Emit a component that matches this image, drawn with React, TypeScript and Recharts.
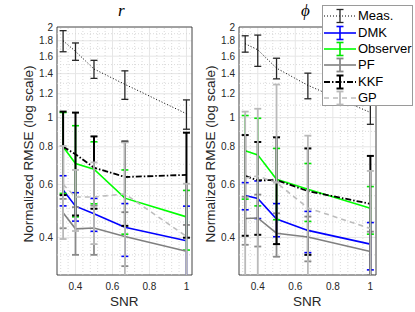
import React from "react";
import {
  ComposedChart,
  Line,
  ErrorBar,
  XAxis,
  YAxis,
  CartesianGrid,
  ReferenceLine,
  ReferenceArea,
  Legend,
} from "recharts";

// SNR values (x)
const snr = [0.333, 0.4, 0.5, 0.667, 1];

// ticks
const xTicks = [0.4, 0.6, 0.8, 1];
const xMinor = [0.32, 0.36, 0.44, 0.48, 0.52, 0.56, 0.64, 0.68, 0.72, 0.76, 0.84, 0.88, 0.92, 0.96];
const yTicks = [0.4, 0.6, 0.8, 1, 1.2, 1.4, 1.6, 1.8, 2];
const yMinor = [0.35, 0.45, 0.5, 0.55, 0.7, 0.9, 1.1, 1.3, 1.5, 1.7, 1.9];

// r panel: means and +/- errors
const rMeas = [1.8, 1.66, 1.45, 1.29, 1.03];
const rMeasErr = [0.145, 0.11, 0.1, 0.14, 0.115];
const rDMK = [0.575, 0.508, 0.479, 0.432, 0.39];
const rDMKErr = [0.066, 0.055, 0.06, 0.086, 0.118];
const rObs = [0.8, 0.704, 0.674, 0.54, 0.468];
const rObsErr = [0.24, 0.236, 0.157, 0.13, 0.105];
const rPF = [0.483, 0.427, 0.43, 0.403, 0.36];
const rPFErr = [0.054, 0.077, 0.08, 0.082, 0.08];
const rKKF = [0.8, 0.756, 0.682, 0.635, 0.645];
const rKKFErr = [0.247, 0.283, 0.184, 0.198, 0.246];
const rGP = [0.6, 0.545, 0.545, 0.558, 0.403];
const rGPErr = [0.205, 0.125, 0.165, 0.269, 0.2];

// phi panel
const pMeas = [1.76, 1.68, 1.46, 1.28, 1.04];
const pMeasErr = [0.11, 0.2, 0.115, 0.125, 0.09];
const pDMK = [0.551, 0.539, 0.46, 0.422, 0.38];
const pDMKErr = [0.057, 0.077, 0.058, 0.066, 0.068];
const pObs = [0.776, 0.752, 0.624, 0.578, 0.5];
const pObsErr = [0.24, 0.243, 0.166, 0.126, 0.09];
const pPF = [0.462, 0.464, 0.413, 0.401, 0.359];
const pPFErr = [0.084, 0.091, 0.068, 0.068, 0.059];
const pKKF = [0.64, 0.619, 0.62, 0.57, 0.517];
const pKKFErr = [0.235, 0.211, 0.24, 0.22, 0.229];
const pGP = [0.63, 0.64, 0.608, 0.501, 0.428];
const pGPErr = [0.417, 0.43, 0.68, 0.37, 0.237];

const series = [
  { key: "meas", name: "Meas.", color: "#000000", width: 1, dash: "1 2", errColor: "#262626", errWidth: 1.3 },
  { key: "dmk", name: "DMK", color: "#0000ff", width: 1.6, dash: undefined, errColor: "#0000ff", errWidth: 1.6 },
  { key: "obs", name: "Observer", color: "#00ff00", width: 1.6, dash: undefined, errColor: "#00e600", errWidth: 1.6 },
  { key: "pf", name: "PF", color: "#808080", width: 1.6, dash: undefined, errColor: "#8a8a8a", errWidth: 1.8 },
  { key: "kkf", name: "KKF", color: "#000000", width: 1.8, dash: "6 2 1.5 2", errColor: "#000000", errWidth: 2 },
  { key: "gp", name: "GP", color: "#bdbdbd", width: 1.6, dash: "5 4", errColor: "#bababa", errWidth: 1.8 },
];

const FONT = '"Liberation Sans", Arial, sans-serif';

// log axes: a bar whose lower end would be <= 0 loses its lower half, like matlab
function err(v: number, e: number): [number, number] {
  return [e < v ? e : 0, e];
}

function buildRows(vals: Record<string, number[]>, errs: Record<string, number[]>) {
  return snr.map((x, i) => {
    const row: any = { snr: x };
    Object.keys(vals).forEach((k) => {
      row[k] = vals[k][i];
      row[k + "Err"] = err(vals[k][i], errs[k][i]);
    });
    return row;
  });
}

const rRows = buildRows(
  { meas: rMeas, dmk: rDMK, obs: rObs, pf: rPF, kkf: rKKF, gp: rGP },
  { meas: rMeasErr, dmk: rDMKErr, obs: rObsErr, pf: rPFErr, kkf: rKKFErr, gp: rGPErr }
);
const pRows = buildRows(
  { meas: pMeas, dmk: pDMK, obs: pObs, pf: pPF, kkf: pKKF, gp: pGP },
  { meas: pMeasErr, dmk: pDMKErr, obs: pObsErr, pf: pPFErr, kkf: pKKFErr, gp: pGPErr }
);

const renderLegend = () => (
  <div
    style={{
      width: 89,
      height: 97,
      background: "#fff",
      border: "1px solid #9a9a9a",
      fontFamily: FONT,
      fontSize: 13,
      color: "#000",
      paddingTop: 2,
      boxSizing: "content-box",
    }}
  >
    {series.map((s) => (
      <div key={s.key} style={{ display: "flex", alignItems: "center", height: 16.4 }}>
        <svg width={34} height={16} style={{ flex: "none" }}>
          <line x1={1} x2={33} y1={8} y2={8} stroke={s.color} strokeWidth={s.width} strokeDasharray={s.dash} />
          <line x1={17} x2={17} y1={1.5} y2={14.5} stroke={s.errColor} strokeWidth={s.errWidth} />
          <line x1={13.5} x2={20.5} y1={1.5} y2={1.5} stroke={s.errColor} strokeWidth={s.errWidth} />
          <line x1={13.5} x2={20.5} y1={14.5} y2={14.5} stroke={s.errColor} strokeWidth={s.errWidth} />
        </svg>
        <span style={{ marginLeft: 1, lineHeight: "16px" }}>{s.name}</span>
      </div>
    ))}
  </div>
);

function Panel({ rows, left, width, rightMargin, legend, cls }: any) {
  const tick = { fontSize: 10, fill: "#262626", fontFamily: FONT };
  return (
    <div className={cls} style={{ position: "absolute", left, top: 0 }}>
      <ComposedChart width={width} height={312} data={rows} margin={{ top: 27, right: rightMargin, bottom: 15, left: 0 }}>
        <CartesianGrid stroke="#e6e6e6" strokeWidth={1} />
        <XAxis
          type="number"
          dataKey="snr"
          domain={[0.3, 1.03]}
          ticks={xTicks}
          interval={0}
          allowDataOverflow
          tickLine={false}
          axisLine={false}
          tick={tick}
          tickFormatter={(v: number) => String(v)}
          height={22}
          tickSize={6}
          tickMargin={2}
        />
        <YAxis
          type="number"
          scale="log"
          domain={[0.3, 2]}
          ticks={yTicks}
          interval={0}
          allowDataOverflow
          tickLine={false}
          axisLine={false}
          tick={tick}
          tickFormatter={(v: number) => String(v)}
          width={57}
          tickSize={0}
          tickMargin={4}
        />
        {xMinor.map((v) => (
          <ReferenceLine key={"x" + v} x={v} stroke="#d0d0d0" strokeWidth={0.8} strokeDasharray="1 2" />
        ))}
        {yMinor.map((v) => (
          <ReferenceLine key={"y" + v} y={v} stroke="#d0d0d0" strokeWidth={0.8} strokeDasharray="1 2" />
        ))}
        {series.map((s) => (
          <Line
            key={s.key}
            dataKey={s.key}
            name={s.name}
            type="linear"
            stroke={s.color}
            strokeWidth={s.width}
            strokeDasharray={s.dash}
            dot={false}
            activeDot={false}
            isAnimationActive={false}
          >
            <ErrorBar
              dataKey={s.key + "Err"}
              direction="y"
              width={3.5}
              stroke={s.errColor}
              strokeWidth={s.errWidth}
              isAnimationActive={false}
            />
          </Line>
        ))}
        <ReferenceArea x1={0.3} x2={1.03} y1={0.3} y2={2} fill="none" stroke="#262626" strokeWidth={0.8} ifOverflow="visible" />
        {legend && (
          <Legend
            layout="vertical"
            align="center"
            verticalAlign="middle"
            content={renderLegend}
            wrapperStyle={{ left: 140, top: 5, width: 91, height: 101 }}
          />
        )}
      </ComposedChart>
    </div>
  );
}

const labelStyle: React.CSSProperties = {
  position: "absolute",
  fontFamily: FONT,
  fontSize: 13.5,
  color: "#262626",
  whiteSpace: "nowrap",
};

// error bars are not clipped by recharts; clip them to each plot box
const clipCss = `
.panelL g[class*="recharts-errorBar"] { clip-path: url(#plotClipL); }
.panelR g[class*="recharts-errorBar"] { clip-path: url(#plotClipR); }
`;

export default function App() {
  return (
    <div style={{ position: "absolute", left: 0, top: 0, width: 415, height: 312, background: "#fff", overflow: "hidden" }}>
      <style>{clipCss}</style>
      <svg width={0} height={0} style={{ position: "absolute" }}>
        <defs>
          <clipPath id="plotClipL" clipPathUnits="userSpaceOnUse">
            <rect x={57} y={27} width={135} height={248} />
          </clipPath>
          <clipPath id="plotClipR" clipPathUnits="userSpaceOnUse">
            <rect x={57} y={27} width={137} height={248} />
          </clipPath>
        </defs>
      </svg>
      <Panel cls="panelL" rows={rRows} left={0} width={200} rightMargin={8} legend={false} />
      <Panel cls="panelR" rows={pRows} left={182} width={233} rightMargin={39} legend={true} />
      <div style={{ ...labelStyle, left: 118, top: 1, fontFamily: '"Liberation Serif", "DejaVu Serif", serif', fontStyle: "italic", fontSize: 17, color: "#000" }}>
        r
      </div>
      <div style={{ ...labelStyle, left: 301, top: 1, fontFamily: '"Liberation Serif", "DejaVu Serif", serif', fontStyle: "italic", fontSize: 17, color: "#000" }}>
        ϕ
      </div>
      <div style={{ ...labelStyle, left: 110, top: 294 }}>SNR</div>
      <div style={{ ...labelStyle, left: 293, top: 294 }}>SNR</div>
      <div style={{ ...labelStyle, left: 28, top: 154, transform: "translate(-50%, -50%) rotate(-90deg)" }}>
        Normalized RMSE (log scale)
      </div>
      <div style={{ ...labelStyle, left: 210, top: 154, transform: "translate(-50%, -50%) rotate(-90deg)" }}>
        Normalized RMSE (log scale)
      </div>
    </div>
  );
}
